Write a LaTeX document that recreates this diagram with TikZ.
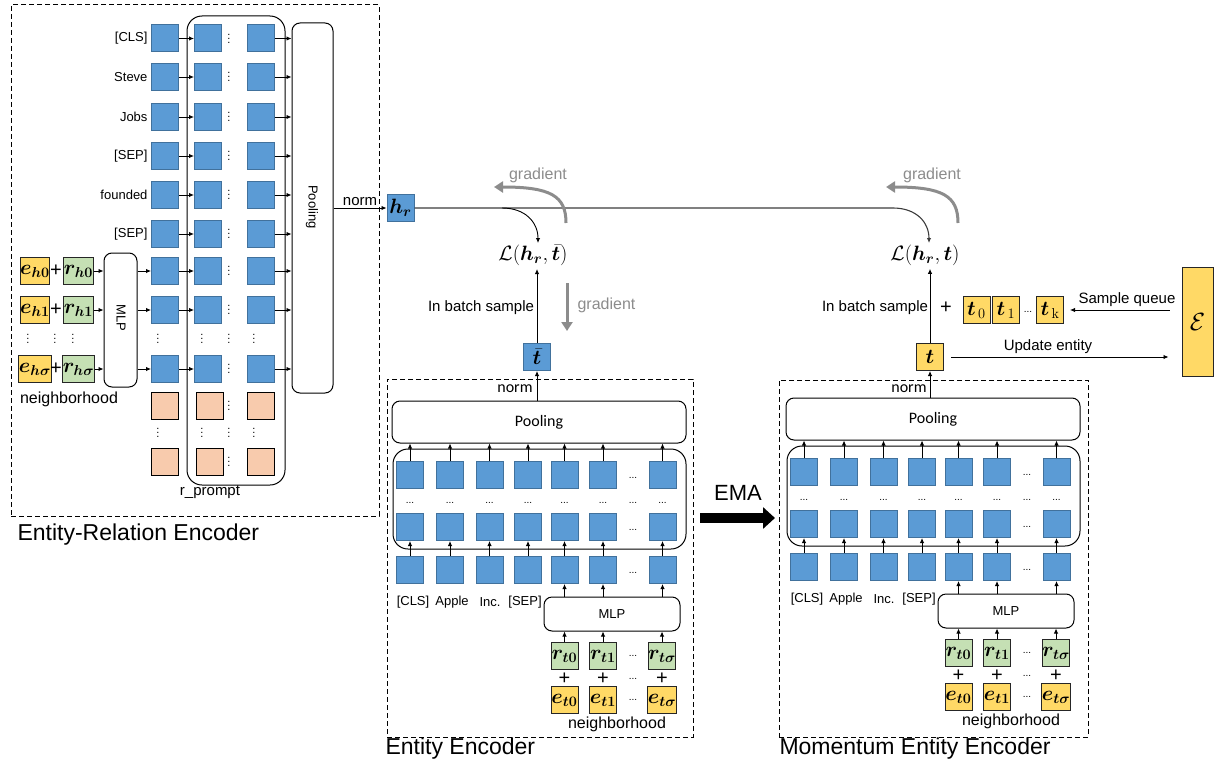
\documentclass[tikz,border=0pt]{standalone}
\usepackage[no-math]{fontspec}
\setmainfont{Liberation Sans}
\newfontfamily\calib{Carlito}
\usepackage{amsmath}
\usepackage{bm}
\usetikzlibrary{arrows.meta,calc}
\definecolor{bluef}{RGB}{91,155,213}
\definecolor{bluebd}{RGB}{65,113,156}
\definecolor{yelf}{RGB}{255,217,102}
\definecolor{grnf}{RGB}{197,224,180}
\definecolor{orgf}{RGB}{248,203,173}
\definecolor{gradc}{RGB}{140,140,140}
\definecolor{linec}{RGB}{60,60,60}
\tikzset{
 bx/.style={minimum width=27pt, minimum height=27pt, inner sep=0pt, line width=1pt},
 bl/.style={bx, draw=bluebd, fill=bluef},
 yl/.style={bx, draw=black!85, fill=yelf},
 gr/.style={bx, draw=black!85, fill=grnf},
 og/.style={bx, draw=black, fill=orgf},
 rnd/.style={draw, rounded corners=8pt, line width=1pt},
 arr/.style={line width=0.9pt, -{Latex[length=5pt,width=4.5pt]}},
 grad/.style={draw=gradc, line width=3pt, -{Triangle[length=9pt,width=11pt]}},
 dbox/.style={draw, dash pattern=on 5pt off 3pt, line width=1pt, inner sep=0pt},
 sm/.style={font=\fontsize{13}{13}\selectfont},
 md/.style={font=\fontsize{15}{15}\selectfont},
 pls/.style={font=\fontsize{20}{20}\selectfont, inner sep=0pt},
 big/.style={font=\fontsize{23}{23}\selectfont},
 mth/.style={font=\fontsize{20}{20}\selectfont},
 cal/.style={font=\calib\fontsize{16}{16}\selectfont},
 hd/.style={font=\fontsize{10}{10}\selectfont, inner sep=0pt},
 vd/.style={font=\fontsize{11}{11}\selectfont, inner sep=0pt, yshift=3pt},
}
\begin{document}
\begin{tikzpicture}[x=1pt,y=-1pt]
\useasboundingbox (0,0) rectangle (1214,765);

% ================= Entity-Relation Encoder =================
\node[dbox, minimum width=368pt, minimum height=511pt] (erbox) at (195,260.5) {};
\node[big, anchor=west] (erlab) at (14,535) {Entity-Relation Encoder};

\node[rnd, rounded corners=15pt, minimum width=98pt, minimum height=469pt] (prm) at (236,250.5) {};
\node[md] (prmlab) at (210,492) {r\_prompt};
\node[rnd, minimum width=41pt, minimum height=370pt] (pool) at (312.5,208) {};
\node[sm, rotate=-90] (poollab) at (312,207) {Pooling};
\node[rnd, minimum width=33pt, minimum height=134pt] (mlp) at (120.5,320) {};
\node[sm, rotate=-90] (mlplab) at (121,318) {MLP};

\foreach \y [count=\i] in {38.5,77,117,156,195,234,271,310,369} {
  \node[bl] (a\i) at (165,\y) {};
  \node[bl] (b\i) at (208,\y) {};
  \node[bl] (c\i) at (260.5,\y) {};
  \node[vd] (vd\i) at (229,\y) {$\vdots$};
  \draw[arr] (a\i) -- (b\i);
  \draw[arr] (c\i.east) -- (c\i.east -| pool.west);
}
\foreach \y/\t [count=\i] in {38.5/{[CLS]},77/Steve,117/Jobs,156/{[SEP]},195/founded,234/{[SEP]}} {
  \node[sm, anchor=east] (w\i) at (151,\y) {\t};
}
\foreach \x [count=\i] in {158,202,229,254} {
  \node[vd] (dA\i) at (\x,339) {$\vdots$};
  \node[vd] (dB\i) at (\x,433) {$\vdots$};
}
\foreach \y [count=\i] in {406,462} {
  \node[og] (oa\i) at (165,\y) {};
  \node[og] (ob\i) at (209.5,\y) {};
  \node[og] (oc\i) at (261,\y) {};
  \node[vd] (ov\i) at (229,\y) {$\vdots$};
}
\foreach \y/\s/\k in {271/0/7, 310/1/8, 369/\sigma/9} {
  \node[yl, mth] (eh\k) at (35,\y) {$\bm{e}_{\bm{h\s}}$};
  \node[pls] (ph\k) at (56,\y) {+};
  \node[gr, mth] (rh\k) at (78.5,\y) {$\bm{r}_{\bm{h\s}}$};
  \draw[arr] (rh\k.east) -- (rh\k.east -| mlp.west);
  \draw[arr] (mlp.east |- a\k) -- (a\k.west);
}
\foreach \x [count=\i] in {28,55,73} { \node[vd] (nd\i) at (\x,339) {$\vdots$}; }
\node[md, font=\fontsize{16}{16}\selectfont] (nbh) at (69,399) {neighborhood};

% h_r
\node[bl, mth] (hr) at (400.5,208) {$\bm{h}_{\bm{r}}$};
\draw[arr] (hr.west -| pool.east) -- (hr.west) node[midway, above, md, inner sep=2pt] (nrm) {norm};

% losses
\node[font=\fontsize{22}{22}\selectfont] (Lb) at (533,255) {$\mathcal{L}(\bm{h}_{\bm{r}},\bar{\bm{t}})$};
\node[font=\fontsize{22}{22}\selectfont] (Lt) at (925,255) {$\mathcal{L}(\bm{h}_{\bm{r}},\bm{t})$};
\coordinate (jb) at (502,208);
\coordinate (jt) at (893,208);
\coordinate (Lbin) at (538,243);
\coordinate (Ltin) at (929,243);
\draw[arr, draw=linec, line width=1.1pt] (hr.east) -- (jt) .. controls (916,208) and (929,222) .. (Ltin);
\draw[arr] (jb) .. controls (525,208) and (538,222) .. (Lbin);

% gradients
\coordinate (g1a) at (566,223); \coordinate (g1b) at (494,187);
\coordinate (g2a) at (958,223); \coordinate (g2b) at (886,187);
\coordinate (g3a) at (567,283); \coordinate (g3b) at (567,331);
\draw[grad] (g1a) .. controls (566,196) and (551,187) .. (g1b);
\draw[grad] (g2a) .. controls (958,196) and (943,187) .. (g2b);
\draw[grad] (g3a) -- (g3b);
\node[text=gradc, font=\fontsize{16}{16}\selectfont] (gt1) at (538,175) {gradient};
\node[text=gradc, font=\fontsize{16}{16}\selectfont] (gt2) at (932,175) {gradient};
\node[text=gradc, font=\fontsize{16}{16}\selectfont, anchor=west] (gt3) at (574,305) {gradient};

% t-bar and t
\node[bl, mth] (tb) at (537,357) {$\bar{\bm{t}}$};
\node[yl, mth] (tt) at (930,357) {$\bm{t}$};
\draw[arr] (tb.north) -- (tb.north |- Lb.south);
\draw[arr] (tt.north) -- (tt.north |- Lt.south);
\node[md] (ibs1) at (481,308) {In batch sample};
\node[md] (ibs2) at (875,308) {In batch sample};
\node[pls] (plq) at (946,308) {+};
\node[yl, mth] (q0) at (976.5,310) {$\bm{t}_{\,0}$};
\node[yl, mth] (q1) at (1006,310) {$\bm{t}_{\,1}$};
\node[hd] (qd) at (1028,312) {...};
\node[yl, mth] (qk) at (1050,310) {$\bm{t}_{\,\mathrm{k}}$};
\node[yl, minimum width=31pt, minimum height=109pt] (ent) at (1197.5,321.5) {\fontsize{28}{28}\selectfont$\mathcal{E}$};
\draw[arr, shorten <=12pt, shorten >=6pt] (ent.west |- qk) -- (qk.east);
\node[md] (sq) at (1127,300) {Sample queue};
\draw[arr, shorten <=7pt, shorten >=13pt] (tt.east) -- (tt.east -| ent.west);
\node[md] (ue) at (1048,347) {Update entity};

% ================= Entity encoders =================
\node[dbox, minimum width=306pt, minimum height=358pt] (Ebox) at (540,558) {};
\node[dbox, minimum width=309pt, minimum height=357pt] (Mbox) at (933.5,558.5) {};
\node[big, anchor=west] (Elab) at (382,749) {Entity Encoder};
\node[big, anchor=west] (Mlab) at (776,749) {Momentum Entity Encoder};

\foreach \p/\dx/\dy in {E/0/0, M/394/-3} {
\begin{scope}[shift={(\dx,\dy)}]
  \node[rnd, minimum width=294pt, minimum height=42pt, cal] (\p-pool) at (539,422) {Pooling};
  \node[rnd, rounded corners=15pt, minimum width=293pt, minimum height=100pt] (\p-inner) at (539.5,499) {};
  \foreach \x [count=\i] in {410,450,489.5,528,564.5,603,662.5} {
    \node[bl] (\p-t\i) at (\x,475) {};
    \node[bl] (\p-m\i) at (\x,527) {};
    \node[bl] (\p-b\i) at (\x,570) {};
    \draw[arr] (\p-t\i.north) -- (\p-t\i.north |- \p-pool.south);
    \draw[arr] (\p-b\i.north) -- (\p-m\i.south);
    \node[hd] (\p-dr\i) at (\x,503) {...};
  }
  \node[hd] (\p-d1) at (633,478) {...};
  \node[hd] (\p-d2) at (633,503) {...};
  \node[hd] (\p-d3) at (633,530) {...};
  \node[hd] (\p-d4) at (633,573) {...};
  \node[sm] (\p-l1) at (413,602) {[CLS]};
  \node[sm] (\p-l2) at (452,602) {Apple};
  \node[sm] (\p-l3) at (490,602) {Inc.};
  \node[sm] (\p-l4) at (525,602) {[SEP]};
  \node[rnd, minimum width=136pt, minimum height=34pt, sm] (\p-mlp) at (612,614) {MLP};
  \foreach \i in {5,6,7} { \draw[arr] (\p-b\i.south |- \p-mlp.north) -- (\p-b\i.south); }
  \foreach \x/\s [count=\j] in {564.5/0, 603/1, 662/\sigma} {
    \node[gr, mth] (\p-r\j) at (\x,656) {$\bm{r}_{\bm{t\s}}$};
    \node[pls] (\p-pl\j) at (\x,679) {+};
    \node[yl, mth] (\p-e\j) at (\x,700) {$\bm{e}_{\bm{t\s}}$};
    \draw[arr] (\p-r\j.north) -- (\p-r\j.north |- \p-mlp.south);
  }
  \node[hd] (\p-d5) at (633,656) {...};
  \node[hd] (\p-d6) at (633,679) {...};
  \node[hd] (\p-d7) at (633,700) {...};
  \node[md, font=\fontsize{16}{16}\selectfont] (\p-nb) at (617,724) {neighborhood};
\end{scope}
}
\draw[arr] (tb.south |- E-pool.north) -- (tb.south);
\draw[arr] (tt.south |- M-pool.north) -- (tt.south);
\node[cal] (En) at (515,389) {norm};
\node[cal] (Mn) at (909,389) {norm};

% EMA
\coordinate (emaA) at (700,518);
\coordinate (emaB) at (775,518);
\draw[line width=10pt, -{Triangle[length=12pt,width=21pt]}] (emaA) -- (emaB);
\node[font=\fontsize{22}{22}\selectfont] (emal) at (738,493) {EMA};
\end{tikzpicture}
\end{document}
